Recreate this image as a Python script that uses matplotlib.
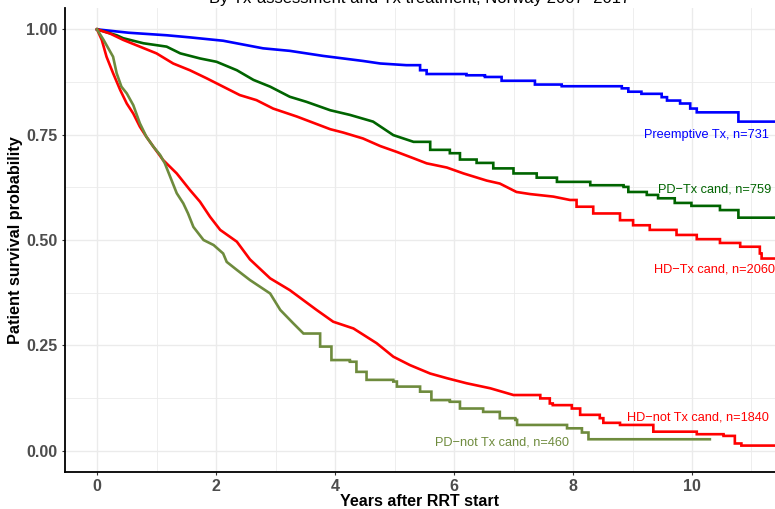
import matplotlib
matplotlib.use("Agg")
import matplotlib.pyplot as plt
from matplotlib.ticker import MultipleLocator

plt.rcParams['font.family'] = ['Liberation Sans', 'DejaVu Sans']

# Survival curves (years, probability).
# "head" = dense part where the tiny steps read as a line,
# "tail" = sparse part with visible steps (value drops at that time).
pre_head_t = [0, 0.53, 1.17, 1.56, 2.12, 2.79, 3.24, 3.8, 4.47, 4.76, 5.2]
pre_head_s = [1.0, 0.992, 0.986, 0.981, 0.973, 0.955, 0.949, 0.937, 0.925, 0.919, 0.915]
pre_tail_t = [5.43, 5.54, 6.21, 6.52, 6.8, 7.36, 7.81, 8.82, 8.93, 9.15, 9.49, 9.58, 9.8,
              9.97, 10.08, 10.78, 11.5]
pre_tail_s = [0.903, 0.894, 0.891, 0.887, 0.878, 0.869, 0.865, 0.86, 0.852, 0.847, 0.839,
              0.831, 0.824, 0.812, 0.803, 0.781, 0.781]

pdtx_head_t = [0, 0.33, 0.44, 0.78, 1.17, 1.4, 1.73, 2.01, 2.35, 2.63, 2.91, 3.24, 3.52,
               3.92, 4.25, 4.64, 4.98, 5.32]
pdtx_head_s = [1.0, 0.986, 0.979, 0.967, 0.959, 0.943, 0.931, 0.923, 0.903, 0.88, 0.864,
               0.84, 0.828, 0.808, 0.797, 0.781, 0.749, 0.733]
pdtx_tail_t = [5.6, 5.93, 6.1, 6.38, 6.66, 7.0, 7.39, 7.73, 8.29, 8.85, 8.93, 9.24, 9.43,
               9.71, 9.99, 10.47, 10.78, 11.5]
pdtx_tail_s = [0.714, 0.706, 0.691, 0.683, 0.67, 0.658, 0.648, 0.638, 0.63, 0.626, 0.614,
               0.607, 0.599, 0.588, 0.581, 0.571, 0.553, 0.553]

hdtx_head_t = [0, 0.22, 0.44, 0.72, 1.0, 1.28, 1.56, 1.84, 2.12, 2.4, 2.68, 2.96, 3.36,
               3.92, 4.14, 4.47, 4.76, 5.04, 5.32, 5.54, 5.88, 6.16, 6.55, 6.77, 7.05, 7.28,
               7.67, 7.95]
hdtx_head_s = [1.0, 0.99, 0.975, 0.959, 0.943, 0.919, 0.903, 0.884, 0.864, 0.844, 0.832,
               0.812, 0.793, 0.763, 0.755, 0.741, 0.723, 0.709, 0.694, 0.682, 0.672, 0.658,
               0.641, 0.634, 0.614, 0.609, 0.603, 0.595]
hdtx_tail_t = [8.06, 8.34, 8.79, 9.01, 9.29, 9.74, 10.08, 10.47, 10.81, 11.14, 11.17, 11.5]
hdtx_tail_s = [0.579, 0.563, 0.547, 0.535, 0.524, 0.512, 0.502, 0.493, 0.484, 0.468, 0.456,
               0.456]

hdnot_head_t = [0, 0.08, 0.16, 0.27, 0.39, 0.5, 0.61, 0.72, 0.83, 0.95, 1.11, 1.34, 1.56,
                1.73, 1.9, 2.07, 2.35, 2.57, 2.91, 3.24, 3.69, 3.97, 4.31, 4.7, 4.98, 5.26,
                5.6, 5.88, 6.21, 6.61, 7.0]
hdnot_head_s = [1.0, 0.975, 0.935, 0.896, 0.856, 0.824, 0.8, 0.769, 0.745, 0.721, 0.69,
                0.658, 0.619, 0.591, 0.555, 0.524, 0.496, 0.454, 0.409, 0.381, 0.334, 0.306,
                0.29, 0.255, 0.223, 0.203, 0.183, 0.172, 0.16, 0.148, 0.132]
hdnot_tail_t = [7.45, 7.61, 7.66, 7.98, 8.12, 8.45, 8.51, 8.79, 9.35, 10.08, 10.53, 10.72,
                10.83, 11.5]
hdnot_tail_s = [0.124, 0.112, 0.108, 0.1, 0.085, 0.077, 0.066, 0.061, 0.045, 0.039, 0.035,
                0.017, 0.012, 0.012]

pdnot_head_t = [0, 0.11, 0.19, 0.27, 0.33, 0.41, 0.5, 0.61, 0.72, 0.83, 0.95, 1.06, 1.14,
                1.23, 1.34, 1.45, 1.53, 1.62, 1.79, 1.96, 2.12, 2.18, 2.35, 2.57, 2.91, 3.08,
                3.3, 3.47]
pdnot_head_s = [1.0, 0.975, 0.955, 0.935, 0.896, 0.864, 0.848, 0.82, 0.777, 0.745, 0.721,
                0.702, 0.682, 0.65, 0.611, 0.587, 0.563, 0.531, 0.5, 0.488, 0.468, 0.448,
                0.429, 0.405, 0.373, 0.334, 0.302, 0.278]
pdnot_tail_t = [3.75, 3.94, 4.25, 4.36, 4.53, 4.98, 5.04, 5.43, 5.62, 5.93, 6.1, 6.49,
                6.77, 7.03, 7.06, 7.9, 8.15, 8.26, 10.3]
pdnot_tail_s = [0.247, 0.215, 0.211, 0.187, 0.168, 0.164, 0.152, 0.14, 0.12, 0.116, 0.1,
                0.092, 0.077, 0.073, 0.061, 0.053, 0.043, 0.027, 0.027]

groups = ["Preemptive Tx", "PD\u2212Tx cand", "HD\u2212Tx cand", "HD\u2212not Tx cand", "PD\u2212not Tx cand"]
counts = [731, 759, 2060, 1840, 460]
colors = ["#0000ff", "#006400", "#ff0000", "#ff0000", "#6e8b3d"]
heads = [(pre_head_t, pre_head_s), (pdtx_head_t, pdtx_head_s), (hdtx_head_t, hdtx_head_s),
         (hdnot_head_t, hdnot_head_s), (pdnot_head_t, pdnot_head_s)]
tails = [(pre_tail_t, pre_tail_s), (pdtx_tail_t, pdtx_tail_s), (hdtx_tail_t, hdtx_tail_s),
         (hdnot_tail_t, hdnot_tail_s), (pdnot_tail_t, pdnot_tail_s)]
# label anchor: left edge x, centre y
label_x = [9.19, 9.43, 9.36, 8.91, 5.68]
label_y = [0.749, 0.62, 0.429, 0.079, 0.02]


def km_path(head, tail):
    # head drawn as a line, then tail as steps (drop at each time)
    xs, ys = list(head[0]), list(head[1])
    prev = ys[-1]
    for t, s in zip(*tail):
        xs += [t, t]
        ys += [prev, s]
        prev = s
    return xs, ys


fig = plt.figure(figsize=(7.75, 5.09), dpi=100)
ax = fig.add_axes([65 / 775, 37.3 / 509, 710 / 775, 463.4 / 509])

for head, tail, c in zip(heads, tails, colors):
    xs, ys = km_path(head, tail)
    ax.plot(xs, ys, color=c, lw=1.9, solid_joinstyle='miter')

for g, n, c, lx, ly in zip(groups, counts, colors, label_x, label_y):
    ax.text(lx, ly, f"{g}, n={n}", color=c, fontsize=9.2, ha='left', va='center')

ax.set_xlim(-0.538, 11.395)
ax.set_ylim(-0.05, 1.05)
ax.xaxis.set_major_locator(MultipleLocator(2))
ax.xaxis.set_minor_locator(MultipleLocator(1))
ax.yaxis.set_major_locator(MultipleLocator(0.25))
ax.yaxis.set_minor_locator(MultipleLocator(0.125))
ax.yaxis.set_major_formatter(plt.FuncFormatter(lambda v, p: f"{v:.2f}"))
ax.grid(which='major', color='#ebebeb', lw=1.0)
ax.grid(which='minor', color='#ebebeb', lw=0.6)
ax.set_axisbelow(True)

for side in ['top', 'right']:
    ax.spines[side].set_visible(False)
for side in ['left', 'bottom']:
    ax.spines[side].set_color('black')
    ax.spines[side].set_linewidth(1.3)

ax.tick_params(which='major', length=2.5, color='#333333', labelsize=11.5, labelcolor='#4d4d4d',
               pad=3)
ax.tick_params(which='minor', length=0)
for lab in ax.get_xticklabels() + ax.get_yticklabels():
    lab.set_fontweight('bold')

ax.set_xlabel("Years after RRT start", fontsize=11.5, fontweight='bold', labelpad=0)
ax.set_ylabel("Patient survival probability", fontsize=11.7, fontweight='bold', labelpad=2)

# title sits mostly above the picture, as in the reference
fig.text(420 / 775, 1 - 3 / 509, "By Tx-assessment and Tx treatment, Norway 2007\u20132017",
         ha='center', va='baseline', fontsize=12)

fig.savefig("out.png", dpi=100)
